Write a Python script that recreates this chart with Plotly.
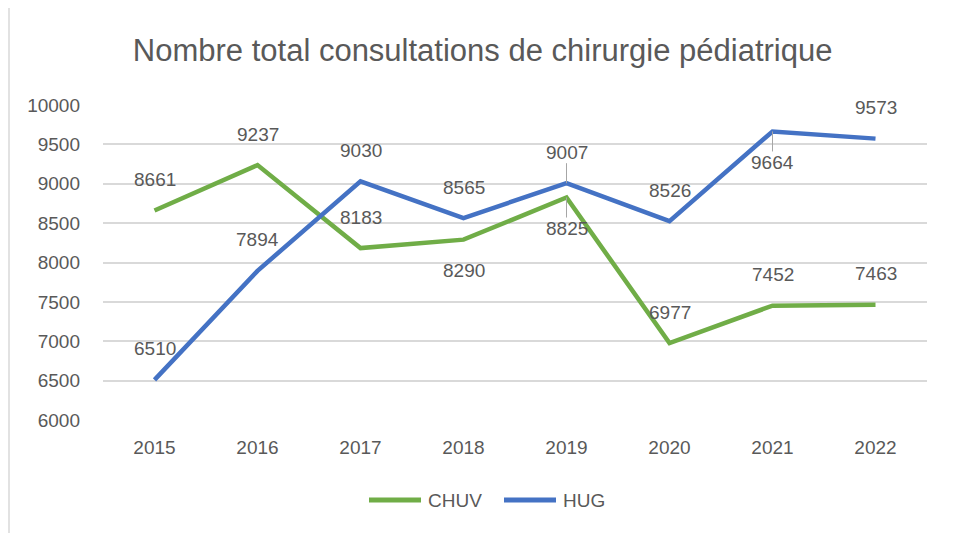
import plotly.graph_objects as go

years = ["2015", "2016", "2017", "2018", "2019", "2020", "2021", "2022"]
chuv = [8661, 9237, 8183, 8290, 8825, 6977, 7452, 7463]
hug = [6510, 7894, 9030, 8565, 9007, 8526, 9664, 9573]

# label side (-1 above, 1 below) and whether a leader line is shown
chuv_side = [-1, -1, -1, 1, 1, -1, -1, -1]
chuv_leader = [False, False, False, False, True, False, False, False]
hug_side = [-1, -1, -1, -1, -1, -1, 1, -1]
hug_leader = [False, False, False, False, True, False, True, False]

GREEN = "#70AD47"
BLUE = "#4472C4"
TEXT = "#595959"
FONT = "Liberation Sans Narrow, Arial Narrow, Liberation Sans, Arial"

# page body has an 8px margin, so the figure is drawn 8px right/down
W, H = 955, 533
L, R, T, B = 95, 36, 97, 121
PW = W - L - R
PH = H - T - B


def px(sx):
    return (sx - 8 - L) / PW


def py(sy):
    return 1 - (sy - 8 - T) / PH


fig = go.Figure()
fig.add_trace(go.Scatter(x=years, y=chuv, name="CHUV", mode="lines",
                         line=dict(color=GREEN, width=4.5)))
fig.add_trace(go.Scatter(x=years, y=hug, name="HUG", mode="lines",
                         line=dict(color=BLUE, width=4.5)))

# data labels (category axis -> position by index)
for vals, sides, leaders in [(chuv, chuv_side, chuv_leader), (hug, hug_side, hug_leader)]:
    for i, (v, s, ld) in enumerate(zip(vals, sides, leaders)):
        fig.add_annotation(
            x=i, y=v, text=str(v), showarrow=True,
            ax=0, ay=31 * s, arrowhead=0, arrowwidth=1, standoff=0,
            arrowcolor="#a6a6a6" if ld else "rgba(0,0,0,0)",
            font=dict(family=FONT, size=19, color=TEXT),
            borderpad=0,
        )

# chart border (left edge)
fig.add_shape(type="line", xref="paper", yref="paper",
              x0=px(9), x1=px(9), y0=py(541), y1=py(-10),
              line=dict(color="#d9d9d9", width=1.5))

# legend drawn by hand to get the longer line keys
for name, color, x0 in [("CHUV", GREEN, 369), ("HUG", BLUE, 504)]:
    fig.add_shape(type="line", xref="paper", yref="paper",
                  x0=px(x0), x1=px(x0 + 52), y0=py(500), y1=py(500),
                  line=dict(color=color, width=5))
    fig.add_annotation(xref="paper", yref="paper", x=px(x0 + 57), y=py(500),
                       text=name, showarrow=False, xanchor="left", yanchor="middle",
                       font=dict(family=FONT, size=19, color=TEXT))

fig.update_layout(
    width=W, height=H,
    margin=dict(l=L, r=R, t=T, b=B),
    paper_bgcolor="white", plot_bgcolor="white",
    title=dict(text="Nombre total consultations de chirurgie pédiatrique",
               x=0.497, xanchor="center", y=1 - 42 / H, yanchor="middle",
               font=dict(family=FONT, size=31, color=TEXT)),
    font=dict(family=FONT, size=19, color=TEXT),
    showlegend=False,
    xaxis=dict(type="category", range=[-0.5, 7.5], showgrid=False,
               showline=False, zeroline=False, ticks="", ticklabelstandoff=14,
               tickfont=dict(family=FONT, size=19, color=TEXT)),
    yaxis=dict(range=[6000, 10000], dtick=500, tickformat="d", showgrid=True,
               gridcolor="#d9d9d9", gridwidth=1.5, zeroline=False, showline=False,
               ticks="", ticklabelstandoff=22,
               tickfont=dict(family=FONT, size=19, color=TEXT)),
)

fig.write_html("out.html")
